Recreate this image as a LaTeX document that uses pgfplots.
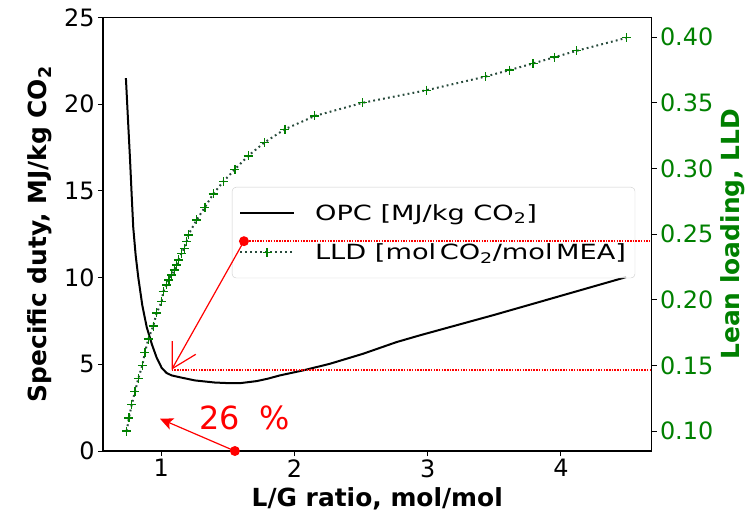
\documentclass[border=0pt]{standalone}
\usepackage{fontspec}
\setmainfont{DejaVu Sans}
\newfontfamily\legfont[FakeStretch=1.3]{DejaVu Sans}
\usepackage{pgfplots}
\pgfplotsset{compat=1.18}
\usetikzlibrary{arrows.meta}
\definecolor{mplgreen}{RGB}{0,128,0}
\definecolor{lldline}{RGB}{40,75,60}
\definecolor{legedge}{RGB}{204,204,204}
\definecolor{annred}{RGB}{255,0,0}
\begin{document}
\begin{tikzpicture}
\pgfplotsset{
  every axis/.append style={
    scale only axis, width=548.5bp, height=433.5bp,
    xmin=0.563, xmax=4.68,
    /pgf/number format/assume math mode=true,
    tick label style={font=\fontsize{24}{28}\selectfont},
    label style={font=\fontsize{25}{30}\selectfont\bfseries},
    tick align=outside, major tick length=5bp,
    axis line style={line width=1.1bp},
    every tick/.style={black, line width=1bp},
  }
}
\begin{axis}[
  ymin=0, ymax=25,
  xtick={1,2,3,4}, ytick={0,5,10,15,20,25},
  tick pos=left,
  xlabel={L/G ratio, mol/mol},
  ylabel={Specific duty, MJ/kg CO\textsubscript{2}},
  xlabel style={at={(axis description cs:0.5,-0.111)}, anchor=center},
  ylabel style={at={(axis description cs:-0.115,0.5)}, anchor=center},
]
\addplot[black, line width=2bp] coordinates {
(0.735,21.5) (0.75,19.2) (0.766,16.8) (0.778,14.8) (0.79,12.9) (0.808,11.3)
(0.828,10.0) (0.858,8.4) (0.891,7.15) (0.93,6.15) (0.965,5.4) (1.003,4.8)
(1.04,4.5) (1.078,4.36) (1.141,4.25) (1.253,4.07) (1.4,3.95) (1.516,3.91)
(1.6,3.92) (1.716,4.03) (1.8,4.17) (1.891,4.36) (2.066,4.65) (2.266,5.03)
(2.516,5.61) (2.766,6.28) (2.941,6.67) (3.5,7.85) (4.0,8.95) (4.49,10.03)
};
\coordinate (dotA) at (axis cs:1.621,12.1);
\coordinate (tipA) at (axis cs:1.078,4.69);
\coordinate (dotB) at (axis cs:1.553,0);
\coordinate (tipB) at (axis cs:0.991,1.86);
\coordinate (txt) at (axis cs:1.626,1.9);
\coordinate (rightA) at (axis cs:4.68,12.1);
\coordinate (rightB) at (axis cs:4.68,4.69);
\coordinate (SW) at (rel axis cs:0,0);
\coordinate (NE) at (rel axis cs:1,1);
\end{axis}
\begin{axis}[
  ymin=0.0848, ymax=0.415,
  axis x line=none, axis y line*=right,
  ytick={0.10,0.15,0.20,0.25,0.30,0.35,0.40},
  yticklabel style={mplgreen, /pgf/number format/.cd, fixed, fixed zerofill, precision=2},
  ylabel={Lean loading, LLD},
  ylabel style={mplgreen, at={(axis description cs:1.1486,0.5)}, anchor=center},
  legend image code/.code={\draw[mark repeat=2,mark phase=2,#1] plot coordinates {(0bp,0bp) (27bp,0bp) (54bp,0bp)};},
  legend style={at={(axis description cs:0.235,0.609)}, anchor=north west,
    font=\legfont\fontsize{21}{25}\selectfont, draw=legedge, rounded corners=4bp,
    fill=white, fill opacity=0.8, text opacity=1, cells={anchor=west},
    inner xsep=7bp, inner ysep=15bp, row sep=18bp,
    nodes={inner sep=2bp},
    /tikz/every odd column/.append style={column sep=18bp}},
]
\addlegendimage{black, line width=2bp}
\addlegendentry{OPC [MJ/kg CO\textsubscript{2}]}
\addplot[lldline, dash pattern=on 1.8bp off 3.2bp, line width=2bp, mark=+, mark size=4.5bp,
  mark options={solid, mplgreen, line width=1.3bp}] coordinates {
(0.741,0.100) (0.758,0.110) (0.778,0.120) (0.803,0.130) (0.828,0.140) (0.858,0.150)
(0.878,0.160) (0.903,0.170) (0.940,0.180) (0.966,0.190) (1.003,0.1985) (1.015,0.2061)
(1.041,0.2113) (1.058,0.2151) (1.078,0.2189) (1.098,0.2227) (1.116,0.2265) (1.128,0.2303)
(1.153,0.2354) (1.173,0.2392) (1.191,0.2442) (1.203,0.2494) (1.266,0.2608) (1.328,0.2705)
(1.390,0.2806) (1.466,0.290) (1.553,0.2994) (1.653,0.3096) (1.773,0.3197) (1.928,0.3299)
(2.153,0.340) (2.511,0.350) (2.991,0.3596) (3.434,0.370) (3.616,0.375) (3.791,0.380)
(3.954,0.3848) (4.117,0.3896) (4.492,0.3995)
};
\addlegendentry{LLD [mol\,CO\textsubscript{2}/mol\,MEA]}
\end{axis}
\draw[annred, line width=1.2bp, -{Straight Barb[length=24bp,width=27bp]}] (dotA) -- (tipA);
\draw[annred, line width=1.2bp, -{Stealth[length=13bp,width=12bp,inset=3bp]}] (dotB) -- (tipB);
\draw[annred, line width=1.7bp, dash pattern=on 1.5bp off 1.2bp] (dotA) -- (rightA);
\draw[annred, line width=1.7bp, dash pattern=on 1.5bp off 1.2bp] (tipA) -- (rightB);
\fill[annred] (dotA) circle (5bp);
\fill[annred] (dotB) circle (5bp);
\node[text=annred, font=\fontsize{32}{36}\selectfont] at (txt) {26\ \ \%};
\pgfresetboundingbox
\path (SW) ++(-103bp,-61bp) coordinate (BL);
\path (NE) ++(104.5bp,17.5bp) coordinate (TR);
\useasboundingbox (BL) rectangle (TR);
\end{tikzpicture}
\end{document}
